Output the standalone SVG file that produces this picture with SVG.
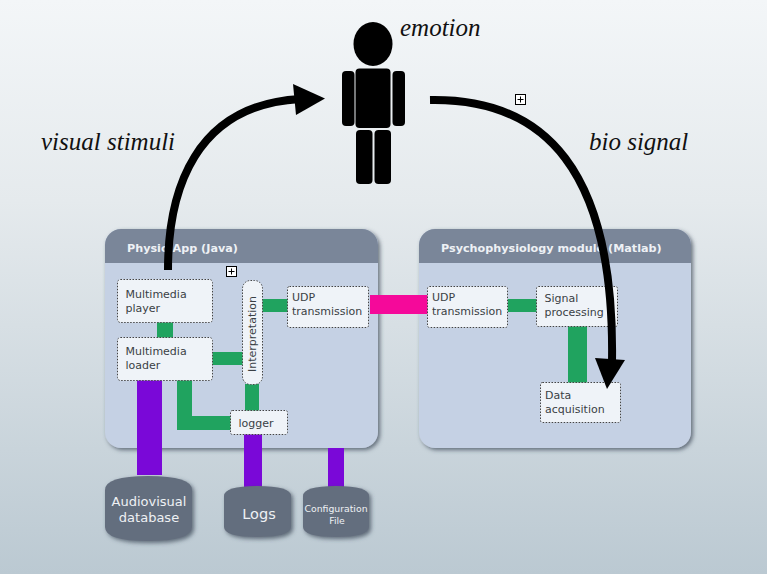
<svg xmlns="http://www.w3.org/2000/svg" width="767" height="574" viewBox="0 0 767 574">
<style>
.box{fill:#eff3f8;stroke:#444;stroke-width:1;stroke-dasharray:1.5 1.5}
.lbl{font-family:"DejaVu Sans",sans-serif;font-size:11px;fill:#3a3f45}
.head{font-family:"DejaVu Sans",sans-serif;font-size:11.200px;font-weight:bold;fill:#eef1f5}
.db{fill:#646e7e}
.dbt{font-family:"DejaVu Sans",sans-serif;fill:#eef1f4;text-anchor:middle}
.cap{font-family:"Liberation Serif",serif;font-style:italic;font-size:25px;fill:#111}
.g{fill:#20a35f}.p{fill:#7a08d8}.m{fill:#f5099a}
.bk{fill:#000}
.cur{fill:none;stroke:#000;stroke-width:8}
.tog{fill:#fff;stroke:#000;stroke-width:1}
</style>
<defs>
<linearGradient id="bg" x1="0" y1="0" x2="0" y2="1"><stop offset="0" stop-color="#f3f6f8"/><stop offset=".35" stop-color="#e5eaed"/><stop offset="1" stop-color="#bbc9d2"/></linearGradient>
<filter id="sh" x="-10%" y="-10%" width="125%" height="125%"><feDropShadow dx="2" dy="2" stdDeviation="2" flood-color="#3d4a5a" flood-opacity=".75"/></filter>
<clipPath id="hl"><rect x="105" y="229" width="273" height="34"/></clipPath>
<clipPath id="hr"><rect x="419" y="229" width="272" height="34"/></clipPath>
</defs>
<rect width="767" height="574" fill="url(#bg)"/>

<g id="physio-app">
<rect x="105" y="229" width="273" height="219" rx="16" fill="#c5d1e4" filter="url(#sh)"/>
<rect x="105" y="229" width="273" height="60" rx="16" fill="#7a8699" clip-path="url(#hl)"/>
<text class="head" x="127" y="252">Physio App (Java)</text>
</g>
<g id="psycho-module">
<rect x="419" y="229" width="272" height="219" rx="16" fill="#c5d1e4" filter="url(#sh)"/>
<rect x="419" y="229" width="272" height="60" rx="16" fill="#7a8699" clip-path="url(#hr)"/>
<text class="head" x="441" y="252">Psychophysiology module (Matlab)</text>
</g>

<g id="connectors">
<rect class="p" x="137" y="378" width="25" height="97"/>
<rect class="p" x="244" y="433" width="18" height="54"/>
<rect class="p" x="328" y="448" width="16" height="39"/>
<rect class="g" x="157" y="322" width="16" height="16"/>
<rect class="g" x="212" y="352" width="31" height="13"/>
<rect class="g" x="262" y="299" width="26" height="13"/>
<rect class="g" x="245" y="384" width="14" height="27"/>
<path class="g" d="M177 380H192V416H231V430H177Z"/>
<rect class="m" x="370" y="295" width="58" height="19"/>
<rect class="g" x="508" y="299" width="29" height="13"/>
<rect class="g" x="568" y="326" width="19" height="57"/>
</g>

<g id="multimedia-player"><rect class="box" x="117.500" y="279.500" width="95" height="43" rx="3"/><text class="lbl" x="125.500" y="298">Multimedia</text><text class="lbl" x="125.500" y="312">player</text></g>
<g id="multimedia-loader"><rect class="box" x="117.500" y="337.500" width="95" height="43" rx="3"/><text class="lbl" x="125.500" y="355">Multimedia</text><text class="lbl" x="125.500" y="369">loader</text></g>
<g id="interpretation"><rect class="box" x="242.500" y="280.500" width="20" height="104" rx="8"/><text class="lbl" transform="translate(255.500 372) rotate(-90)">Interpretation</text></g>
<g id="udp-left"><rect class="box" x="287.500" y="286.500" width="81" height="41" rx="2"/><text class="lbl" x="292" y="301">UDP</text><text class="lbl" x="292" y="315">transmission</text></g>
<g id="logger"><rect class="box" x="230.500" y="410.500" width="57" height="24" rx="2"/><text class="lbl" x="238.500" y="427">logger</text></g>
<g id="udp-right"><rect class="box" x="427.500" y="286.500" width="80" height="41" rx="2"/><text class="lbl" x="432" y="301">UDP</text><text class="lbl" x="432" y="315">transmission</text></g>
<g id="signal-processing"><rect class="box" x="536.500" y="286.500" width="81" height="40" rx="2"/><text class="lbl" x="544.500" y="302">Signal</text><text class="lbl" x="544.500" y="316">processing</text></g>
<g id="data-acquisition"><rect class="box" x="540.500" y="382.500" width="80" height="40" rx="2"/><text class="lbl" x="545" y="399">Data</text><text class="lbl" x="545" y="413">acquisition</text></g>

<g id="audiovisual-database"><path class="db" d="M105 490Q105 476 148 476Q192 476 192 490V527Q192 541 148 541Q105 541 105 527Z" filter="url(#sh)"/><text class="dbt" font-size="13" x="149" y="506">Audiovisual</text><text class="dbt" font-size="13" x="149" y="522">database</text></g>
<g id="logs"><path class="db" d="M224 496Q224 486 257 486Q291 486 291 496V527Q291 537 257 537Q224 537 224 527Z" filter="url(#sh)"/><text class="dbt" font-size="14.500" x="259" y="519">Logs</text></g>
<g id="configuration-file"><path class="db" d="M303 496Q303 486 336 486Q369 486 369 496V527Q369 537 336 537Q303 537 303 527Z" filter="url(#sh)"/><text class="dbt" font-size="9.300" x="336" y="512">Configuration</text><text class="dbt" font-size="9.300" x="337" y="524">File</text></g>

<g id="person">
<ellipse class="bk" cx="373" cy="44" rx="19.500" ry="22"/>
<rect class="bk" x="355.500" y="68.500" width="35" height="59.500" rx="4"/>
<rect class="bk" x="342" y="71" width="12.500" height="55" rx="4"/>
<rect class="bk" x="392.500" y="71" width="12.500" height="55" rx="4"/>
<rect class="bk" x="356" y="130" width="16.500" height="54" rx="4"/>
<rect class="bk" x="374.500" y="130" width="16.500" height="54" rx="4"/>
</g>

<g id="flow-arrows">
<path class="cur" d="M168 270C168 190 195 105 300 99"/>
<path class="bk" d="M293 84L325 98.500L296 115Z"/>
<path class="cur" d="M430 100C545 98 615 170 612 362"/>
<path class="bk" d="M595 358L625 360L607 389Z"/>
</g>

<g id="toggles">
<rect class="tog" x="226.500" y="266.500" width="10" height="10"/><path d="M228.500 271.500H234.500M231.500 268.500V274.500" stroke="#000" fill="none"/>
<rect class="tog" x="515.500" y="94.500" width="10" height="10"/><path d="M517.500 99.500H523.500M520.500 96.500V102.500" stroke="#000" fill="none"/>
</g>

<g id="captions">
<text class="cap" x="400" y="36">emotion</text>
<text class="cap" x="41" y="150">visual stimuli</text>
<text class="cap" x="589" y="150">bio signal</text>
</g>
</svg>
